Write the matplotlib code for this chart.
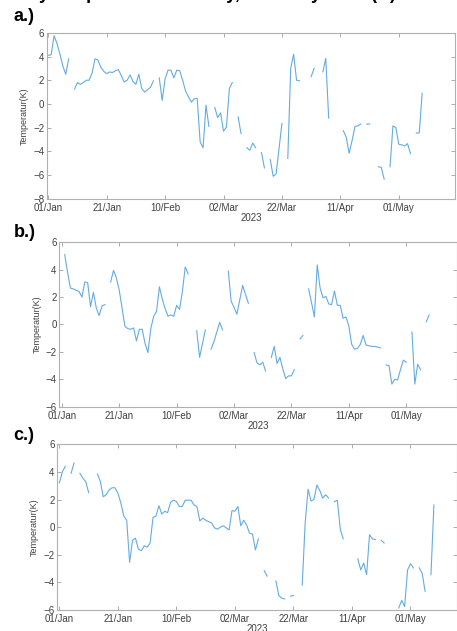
import numpy as np
import pandas as pd
import matplotlib
matplotlib.use("Agg")
import matplotlib.pyplot as plt
import matplotlib.dates as mdates

plt.rcParams["font.family"] = ["Liberation Sans", "DejaVu Sans"]

nan = np.nan

# daily values from 01/Jan/2023, NaN = missing day
temp_a = [4.1, 4.15, 5.75, 5.1, 4.2, 3.2, 2.5, 3.8, nan, 1.25,
          1.8, 1.65, 1.8, 2.0, 2.0, 2.6, 3.8, 3.7, 3.1, 2.75,
          2.55, 2.7, 2.65, 2.8, 2.9, 2.4, 1.85, 2.0, 2.45, 1.9,
          1.65, 2.5, 1.3, 1.0, 1.2, 1.4, 1.95, nan, 2.2, 0.3,
          2.1, 2.85, 2.85, 2.2, 2.85, 2.8, 2.0, 1.1, 0.6, 0.15,
          0.45, 0.45, -3.2, -3.7, -0.1, -1.9, nan, -0.3, -1.15, -0.75,
          -2.3, -1.95, 1.3, 1.8, nan, -1.1, -2.5, nan, -3.7, -3.9,
          -3.3, -3.7, nan, -4.1, -5.4, nan, -4.7, -6.1, -5.9, -3.8,
          -1.65, nan, -4.6, 3.0, 4.2, 2.0, 1.95, nan, nan, nan,
          2.3, 3.0, nan, nan, 2.7, 3.85, -1.2, nan, nan, nan,
          nan, -2.25, -2.8, -4.15, -3.1, -1.9, -1.85, -1.7, nan, -1.7,
          -1.7, nan, nan, -5.3, -5.35, -6.35, nan, -5.3, -1.85, -2.0,
          -3.4, -3.45, -3.55, -3.35, -4.2, nan, -2.45, -2.45, 0.9]

temp_b = [nan, 5.1, 3.8, 2.65, 2.6, 2.5, 2.4, 2.0, 3.1, 3.05,
          1.3, 2.35, 1.2, 0.65, 1.35, 1.45, nan, 3.1, 3.95, 3.4,
          2.5, 1.2, -0.15, -0.3, -0.35, -0.25, -1.2, -0.35, -0.35, -1.4,
          -2.05, -0.3, 0.6, 0.95, 2.75, 1.85, 1.15, 0.6, 0.7, 0.6,
          1.4, 1.1, 2.4, 4.2, 3.7, nan, nan, -0.45, -2.4, -1.4,
          -0.4, nan, -1.8, -1.25, -0.55, 0.15, -0.4, nan, 3.9, 1.7,
          1.25, 0.75, 1.8, 2.85, 2.2, 1.55, nan, -2.05, -2.8, -2.95,
          -2.75, -3.4, nan, -2.4, -1.6, -2.85, -2.4, -3.25, -3.95, -3.75,
          -3.75, -3.3, nan, -1.05, -0.8, nan, 2.6, 1.6, 0.55, 4.35,
          2.65, 1.95, 2.05, 1.5, 1.45, 2.45, 1.4, 1.4, 0.45, 0.55,
          -0.1, -1.45, -1.8, -1.75, -1.45, -0.8, -1.5, -1.55, -1.6, -1.6,
          -1.65, -1.7, nan, -2.95, -3.0, -4.35, -4.0, -4.05, -3.3, -2.6,
          -2.75, nan, -0.55, -4.35, -2.9, -3.3, nan, 0.2, 0.7]

temp_c = [3.2, 4.0, 4.4, nan, 3.9, 4.65, nan, 3.9, 3.55, 3.3,
          2.5, nan, nan, 3.85, 3.3, 2.2, 2.35, 2.7, 2.85, 2.85,
          2.45, 1.75, 0.8, 0.5, -2.55, -0.95, -0.8, -1.6, -1.7, -1.35,
          -1.45, -1.15, 0.7, 0.8, 1.55, 0.95, 1.15, 1.05, 1.8, 1.95,
          1.85, 1.5, 1.5, 1.95, 1.95, 1.95, 1.6, 1.5, 0.45, 0.65,
          0.5, 0.4, 0.3, -0.05, -0.15, 0.0, 0.1, -0.05, -0.2, 1.2,
          1.15, 1.5, 0.1, 0.5, 0.15, -0.45, -0.5, -1.65, -0.85, nan,
          -3.15, -3.55, nan, nan, -3.9, -4.95, -5.15, -5.2, nan, -5.0,
          -4.95, nan, nan, -4.2, 0.3, 2.75, 1.9, 2.0, 3.05, 2.65,
          2.1, 2.35, 2.1, nan, 1.85, 1.95, -0.15, -0.85, nan, nan,
          nan, nan, -2.3, -3.1, -2.6, -3.45, -0.55, -0.85, -0.9, nan,
          -0.95, -1.15, nan, nan, nan, nan, -5.85, -5.3, -5.75, -3.1,
          -2.65, -2.95, nan, -2.95, -3.35, -4.65, nan, -3.45, 1.6]

tick_dates = ["2023-01-01", "2023-01-21", "2023-02-10", "2023-03-02",
              "2023-03-22", "2023-04-11", "2023-05-01"]
panel_labels = ["a.)", "b.)", "c.)"]

days = pd.date_range("2023-01-01", periods=len(temp_a), freq="D")
start = mdates.date2num(pd.Timestamp("2023-01-01"))

fig = plt.figure(figsize=(4.57, 6.31), dpi=100)

# [left, bottom, width, height], xlim offsets in days, y range, ylabel x, letter baseline
panels = [
    (temp_a, [0.103, 0.685, 0.893, 0.263], (-0.4, 139.3), (-8, 6), -0.045, 0.967),
    (temp_b, [0.130, 0.3555, 0.870, 0.2605], (-0.85, 137.7), (-6, 6), -0.044, 0.624),
    (temp_c, [0.1255, 0.0333, 0.8745, 0.2626], (-0.7, 135.9), (-6, 6), -0.046, 0.302),
]

for i, (vals, rect, xl, yl, lab_x, let_y) in enumerate(panels):
    ax = fig.add_axes(rect)
    ax.plot(days, vals, color="#64ace2", linewidth=0.8)
    ax.set_xlim(start + xl[0], start + xl[1])
    ax.set_ylim(*yl)
    ax.set_yticks(np.arange(yl[0], yl[1] + 1, 2))
    ax.set_xticks(pd.to_datetime(tick_dates))
    ax.xaxis.set_major_formatter(mdates.DateFormatter("%d/%b"))
    ax.tick_params(direction="in", length=3, width=0.6, top=True, right=True,
                   labelsize=7, colors="#a0a0a0", labelcolor="#404040", pad=2)
    ax.tick_params(axis="x", pad=3)
    for s in ax.spines.values():
        s.set_color("#b0b0b0")
        s.set_linewidth(0.8)
    ax.set_ylabel("Temperatur(K)", fontsize=6.5, color="#404040")
    ax.yaxis.set_label_coords(lab_x, 0.5)
    ax.set_xlabel("2023", fontsize=7, color="#404040", labelpad=0)
    fig.text(0.03, let_y, panel_labels[i], fontsize=13,
             fontweight="bold", va="baseline", ha="left")

fig.text(0.44, 1.001, "Daily temperature anomaly, Jan\u2013May 2023 (K)",
         fontsize=13, fontweight="bold", ha="center", va="baseline")

fig.savefig("out.png", dpi=100)
